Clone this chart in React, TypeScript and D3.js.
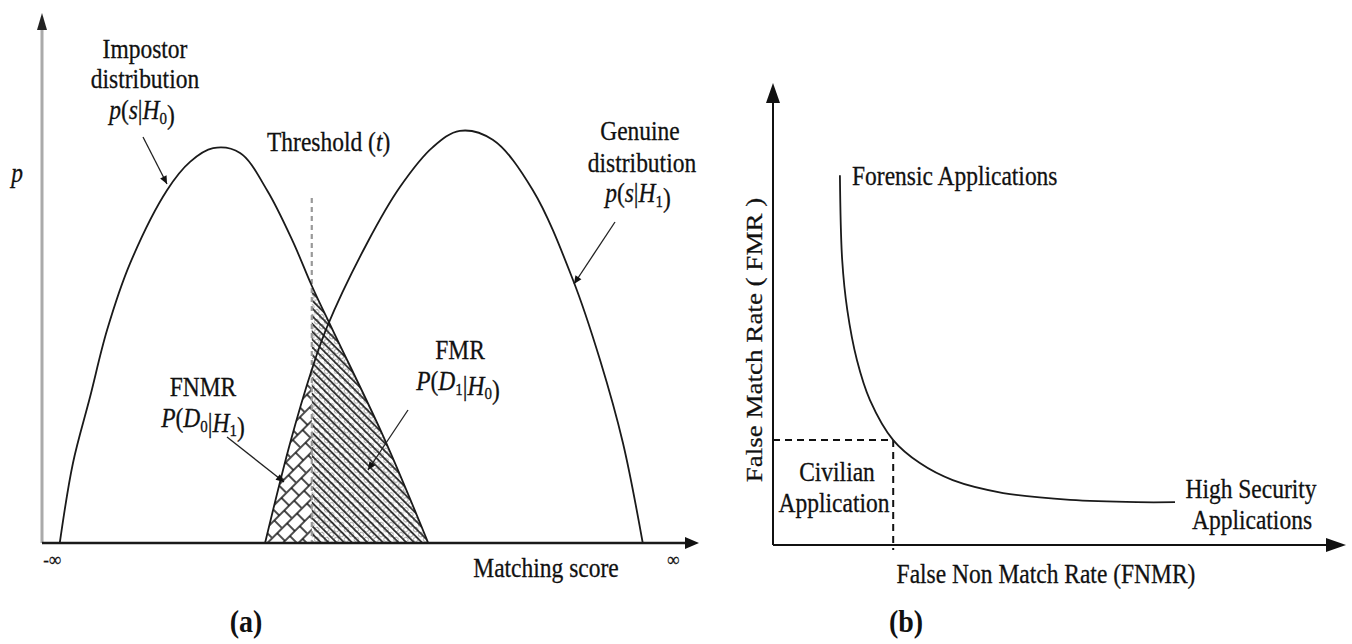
import React from "react";
import * as d3 from "d3";

// ---------- Panel (a): score distributions (score 0..100, density 0..1) ----------
const impostorScore = [2.7, 4.7, 7.3, 9.9, 13.4, 19.0, 22.5, 26.0, 30.1, 34.2, 38.1, 41.0, 44.2, 51.8, 58.7];
const impostorDensity = [0, 0.152, 0.278, 0.406, 0.533, 0.672, 0.726, 0.752, 0.743, 0.672, 0.575, 0.49, 0.405, 0.205, 0];
const genuineScore = [33.9, 37.7, 41.0, 43.3, 49.4, 54.4, 59.4, 63.5, 68.5, 74.6, 80.7, 84.8, 88.3, 91.3];
const genuineDensity = [0, 0.19, 0.33, 0.411, 0.571, 0.678, 0.754, 0.785, 0.768, 0.672, 0.501, 0.349, 0.19, 0];
const thresholdScore = 41.0;
const thresholdTop = 0.657;

// ---------- Panel (b): FMR vs FNMR trade-off (0..1) ----------
const fnmrValues = [0.118, 0.122, 0.131, 0.148, 0.171, 0.212, 0.259, 0.317, 0.406, 0.524, 0.642, 0.709];
const fmrValues = [0.804, 0.62, 0.511, 0.402, 0.315, 0.228, 0.178, 0.141, 0.113, 0.098, 0.093, 0.093];
const civilianPoint = [0.212, 0.228];

const FONT = "Liberation Serif, Times New Roman, serif";
const FS = 23.5;

type P = [number, number];

function T({ x, y, anchor = "middle", size = FS, bold = false, rotate = 0, children }: any) {
  const tr = `translate(${x},${y}) scale(1,1.15)` + (rotate ? ` rotate(${rotate})` : "");
  return (
    <text transform={tr} textAnchor={anchor} fontSize={size} fontFamily={FONT}
      fontWeight={bold ? "bold" : "normal"} fill="#111" stroke="#111" strokeWidth={bold ? 0 : 0.25}
      style={{ fontFamily: FONT }}>{children}</text>
  );
}

const Sub = ({ c }: { c: string }) => (
  <>
    <tspan fontSize={15} dy={4}>{c}</tspan>
    <tspan dy={-4}>{""}</tspan>
  </>
);

export default function App() {
  const xA = d3.scaleLinear().domain([0, 100]).range([42, 700]);
  const yA = d3.scaleLinear().domain([0, 1]).range([543, 18]);
  const xB = d3.scaleLinear().domain([0, 1]).range([773, 1340]);
  const yB = d3.scaleLinear().domain([0, 1]).range([545, 85]);

  const imp: P[] = impostorScore.map((s, i) => [s, impostorDensity[i]]);
  const gen: P[] = genuineScore.map((s, i) => [s, genuineDensity[i]]);
  const roc: P[] = fnmrValues.map((v, i) => [v, fmrValues[i]]);

  const curveA = d3.curveCatmullRom.alpha(0.5);
  const lineA = d3.line<P>().x(d => xA(d[0])).y(d => yA(d[1])).curve(curveA);
  const areaA = d3.area<P>().x(d => xA(d[0])).y0(yA(0)).y1(d => yA(d[1])).curve(curveA);
  const lineB = d3.line<P>().x(d => xB(d[0])).y(d => yB(d[1])).curve(d3.curveCatmullRom.alpha(0.5));

  const xt = xA(thresholdScore);
  const base = yA(0);

  const arrow = (x1: number, y1: number, x2: number, y2: number) => (
    <line x1={x1} y1={y1} x2={x2} y2={y2} stroke="#222" strokeWidth={1.3} markerEnd="url(#ah)" />
  );

  return (
    <svg width={1352} height={644} style={{ position: "absolute", left: 0, top: 0, background: "#fff" }}>
      <defs>
        <marker id="ah" viewBox="0 0 10 10" refX={10} refY={5} markerWidth={10} markerHeight={8}
          markerUnits="userSpaceOnUse" orient="auto">
          <path d="M0,0.5 L10,5 L0,9.5 z" fill="#111" />
        </marker>
        <pattern id="fmrLines" width={5.5} height={5.5} patternUnits="userSpaceOnUse" patternTransform="rotate(-45)">
          <line x1={2.75} y1={0} x2={2.75} y2={5.5} stroke="#000" strokeWidth={1.4} />
        </pattern>
        <pattern id="fmrDots" width={7} height={7} patternUnits="userSpaceOnUse" patternTransform="rotate(-45)">
          <circle cx={3.5} cy={3.5} r={2.3} fill="none" stroke="#777" strokeWidth={0.7} />
        </pattern>
        <pattern id="fnmrBrick" width={14} height={22} patternUnits="userSpaceOnUse" patternTransform="rotate(-45)">
          <g stroke="#111" strokeWidth={1.5}>
            <line x1={0} y1={1} x2={14} y2={1} />
            <line x1={0} y1={12} x2={14} y2={12} />
            <line x1={1} y1={1} x2={1} y2={12} />
            <line x1={8} y1={12} x2={8} y2={23} />
          </g>
        </pattern>
        <clipPath id="leftOfT"><rect x={0} y={0} width={xt} height={644} /></clipPath>
        <clipPath id="rightOfT"><rect x={xt} y={0} width={700 - xt} height={base} /></clipPath>
      </defs>

      {/* ---------------- Panel (a) ---------------- */}
      <g clipPath="url(#leftOfT)">
        <path d={areaA(gen) || ""} fill="url(#fnmrBrick)" />
      </g>
      <g clipPath="url(#rightOfT)">
        <path d={areaA(imp) || ""} fill="url(#fmrDots)" />
        <path d={areaA(imp) || ""} fill="url(#fmrLines)" />
      </g>
      <line x1={xt} x2={xt} y1={yA(thresholdTop)} y2={base} stroke="#999" strokeWidth={2.2} strokeDasharray="5,4" />
      <path d={lineA(imp) || ""} fill="none" stroke="#1a1a1a" strokeWidth={1.8} />
      <path d={lineA(gen) || ""} fill="none" stroke="#1a1a1a" strokeWidth={1.8} />

      {/* axes (a) */}
      <line x1={xA(0)} x2={xA(0)} y1={base} y2={26} stroke="#aaa" strokeWidth={3} />
      <path d={`M${xA(0)},13 L${xA(0) - 5},30 L${xA(0) + 5},30 Z`} fill="#222" />
      <line x1={xA(0)} x2={688} y1={base} y2={base} stroke="#1a1a1a" strokeWidth={2.6} />
      <path d={`M699,${base} L685,${base - 6} L685,${base + 6} Z`} fill="#111" />

      {/* annotation arrows (a) */}
      {arrow(143, 137, 167, 184)}
      {arrow(615, 222, 574, 284)}
      {arrow(227, 437, 284, 482)}
      {arrow(408, 410, 368, 470)}

      {/* labels (a) */}
      <T x={145} y={58}>Impostor</T>
      <T x={145} y={88}>distribution</T>
      <T x={142} y={119}><tspan fontStyle="italic">p</tspan>(<tspan fontStyle="italic">s</tspan>|<tspan fontStyle="italic">H</tspan><Sub c="0" />)</T>
      <T x={17} y={182}><tspan fontStyle="italic">p</tspan></T>
      <T x={267} y={151} anchor="start">Threshold (<tspan fontStyle="italic">t</tspan>)</T>
      <T x={640} y={140}>Genuine</T>
      <T x={642} y={172}>distribution</T>
      <T x={638} y={202}><tspan fontStyle="italic">p</tspan>(<tspan fontStyle="italic">s</tspan>|<tspan fontStyle="italic">H</tspan><Sub c="1" />)</T>
      <T x={460} y={359}>FMR</T>
      <T x={458} y={390}><tspan fontStyle="italic">P</tspan>(<tspan fontStyle="italic">D</tspan><Sub c="1" />|<tspan fontStyle="italic">H</tspan><Sub c="0" />)</T>
      <T x={203} y={396}>FNMR</T>
      <T x={203} y={427}><tspan fontStyle="italic">P</tspan>(<tspan fontStyle="italic">D</tspan><Sub c="0" />|<tspan fontStyle="italic">H</tspan><Sub c="1" />)</T>
      <T x={52} y={566} size={17}>-∞</T>
      <T x={673} y={566} size={17}>∞</T>
      <T x={546} y={577}>Matching score</T>
      <T x={246} y={632} size={28} bold>(a)</T>

      {/* ---------------- Panel (b) ---------------- */}
      <line x1={xB(0)} x2={xB(civilianPoint[0])} y1={yB(civilianPoint[1])} y2={yB(civilianPoint[1])}
        stroke="#111" strokeWidth={2} strokeDasharray="7,5" />
      <line x1={xB(civilianPoint[0])} x2={xB(civilianPoint[0])} y1={yB(civilianPoint[1])} y2={yB(0) + 5}
        stroke="#111" strokeWidth={2} strokeDasharray="7,5" />
      <path d={lineB(roc) || ""} fill="none" stroke="#1a1a1a" strokeWidth={1.8} />

      <line x1={xB(0)} x2={xB(0)} y1={yB(0)} y2={100} stroke="#111" strokeWidth={2} />
      <path d={`M${xB(0)},83 L${xB(0) - 7},103 L${xB(0) + 7},103 Z`} fill="#111" />
      <line x1={xB(0)} x2={1330} y1={yB(0)} y2={yB(0)} stroke="#111" strokeWidth={2} />
      <path d={`M1346,${yB(0)} L1326,${yB(0) - 7} L1326,${yB(0) + 7} Z`} fill="#111" />

      <T x={852} y={185} anchor="start">Forensic Applications</T>
      <T x={837} y={481}>Civilian</T>
      <T x={834} y={512}>Application</T>
      <T x={1251} y={498}>High Security</T>
      <T x={1252} y={529}>Applications</T>
      <T x={1046} y={583}>False Non Match Rate (FNMR)</T>
      <T x={762} y={340} rotate={-90}>False Match Rate ( FMR )</T>
      <T x={906} y={632} size={28} bold>(b)</T>
    </svg>
  );
}
